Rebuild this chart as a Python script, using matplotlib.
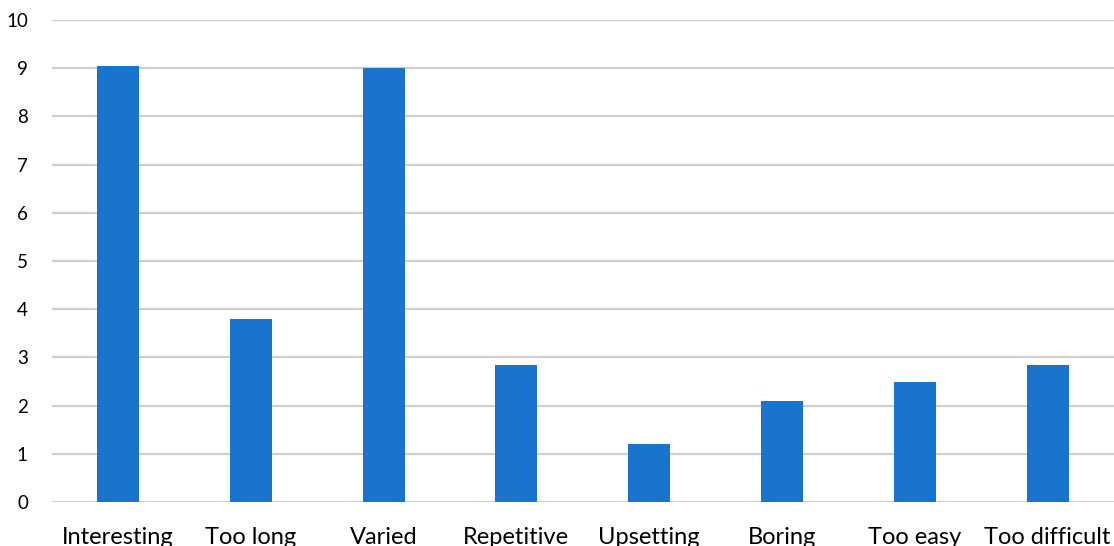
import numpy as np
import matplotlib.pyplot as plt

# category labels and mean scores
categories = ['Interesting', 'Too long', 'Varied', 'Repetitive',
              'Upsetting', 'Boring', 'Too easy', 'Too difficult']
scores = [9.05, 3.8, 9.0, 2.85, 1.2, 2.1, 2.5, 2.85]
y_ticks = list(range(0, 11))

plt.rcParams['font.family'] = ['Lato', 'DejaVu Sans']

fig = plt.figure(figsize=(11.14, 5.46), dpi=100)
ax = fig.add_axes([51.5 / 1114, 44 / 546, 1 - 51.5 / 1114, 482 / 546])

x = np.arange(len(categories))
ax.bar(x, scores, width=0.316, color='#1874CD', zorder=3)

ax.set_xlim(-0.5, len(categories) - 0.5)
ax.set_ylim(0, 10)
ax.set_yticks(y_ticks)
ax.set_xticks(x)
ax.set_xticklabels(categories, fontsize=17)
ax.tick_params(axis='y', labelsize=13.5, length=0, pad=17)
ax.tick_params(axis='x', length=0, pad=18)
ax.grid(axis='y', color='#CFCFCF', linewidth=1.6, zorder=0)
for s in ax.spines.values():
    s.set_visible(False)

fig.savefig('out.png', dpi=100)
